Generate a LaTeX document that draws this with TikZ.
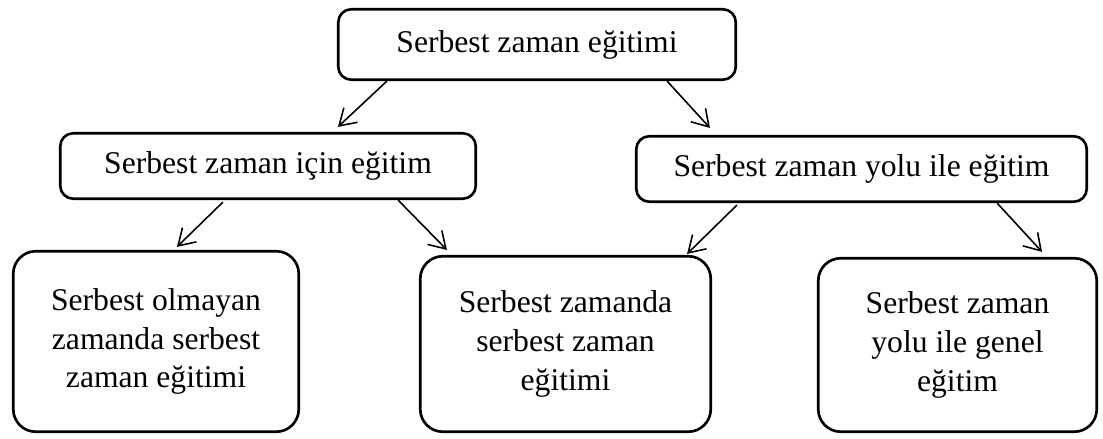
\documentclass[tikz,border=0pt]{standalone}
\usepackage{fontspec}
\setmainfont{Liberation Serif}
\usepackage{tikz}
\usetikzlibrary{arrows.meta}

\begin{document}
\begin{tikzpicture}[
	font=\fontsize{18}{22}\selectfont,
	topic/.style={draw=black,line width=1.5pt,rounded corners=0.26cm,align=center,inner sep=2pt},
	leaf/.style={draw=black,line width=1.5pt,rounded corners=0.45cm,align=center,inner sep=2pt},
	flow/.style={-{Straight Barb[length=3.2mm,width=4mm]},draw=black,line width=0.9pt}
	]
	\useasboundingbox (0,0) rectangle (22.06,8.78);
	
	% Upper levels
	\node[topic,minimum width=7.95cm,minimum height=1.41cm] (egitim) at (10.74,7.89) {Serbest zaman eğitimi};
	\node[topic,minimum width=8.31cm,minimum height=1.31cm] (icin) at (5.36,5.46) {Serbest zaman için eğitim};
	\node[topic,minimum width=9.01cm,minimum height=1.31cm] (yolu) at (17.23,5.40) {Serbest zaman yolu ile eğitim};
	
	% Bottom level
	\node[leaf,minimum width=5.71cm,minimum height=3.61cm] (olmayan) at (3.12,1.95) {Serbest olmayan\\zamanda serbest\\zaman eğitimi};
	\node[leaf,minimum width=5.81cm,minimum height=3.51cm] (zamanda) at (11.31,1.90) {Serbest zamanda\\serbest zaman\\eğitimi};
	\node[leaf,minimum width=5.57cm,minimum height=3.47cm] (genel) at (19.15,1.88) {Serbest zaman\\yolu ile genel\\eğitim};
	
	% Arrows
	\draw[flow] ([xshift=1.0cm]egitim.south west) -- ([xshift=5.58cm,yshift=0.1cm]icin.north west);
	\draw[flow] ([xshift=-1.4cm]egitim.south east) -- ([xshift=1.5cm,yshift=0.14cm]yolu.north west);
	\draw[flow] ([xshift=3.28cm,yshift=-0.04cm]icin.south west) -- ([xshift=3.3cm,yshift=0.06cm]olmayan.north west);
	\draw[flow] ([xshift=-1.58cm]icin.south east) -- ([xshift=0.56cm,yshift=0.1cm]zamanda.north west);
	\draw[flow] ([xshift=2.04cm,yshift=-0.04cm]yolu.south west) -- ([xshift=-0.5cm,yshift=0.02cm]zamanda.north east);
	\draw[flow] ([xshift=-1.82cm]yolu.south east) -- ([xshift=-1.12cm,yshift=0.1cm]genel.north east);
\end{tikzpicture}
\end{document}
